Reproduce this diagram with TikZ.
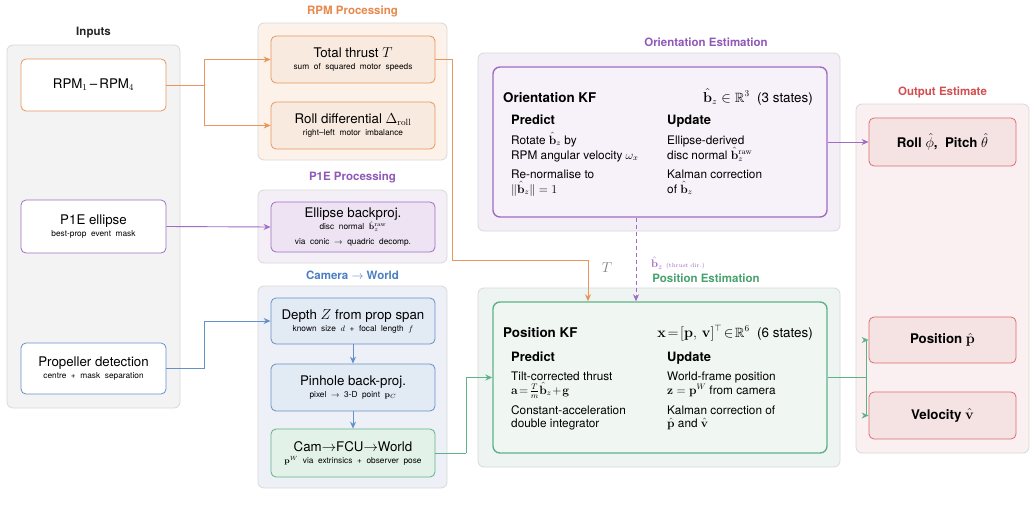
\documentclass[tikz,border=0pt]{standalone}
\usepackage{amsmath,amssymb}
\usepackage[no-math]{fontspec}
\setmainfont{TeX Gyre Heros}
\usetikzlibrary{arrows.meta}
\definecolor{orn}{HTML}{E8965E}
\definecolor{ornT}{HTML}{E8884C}
\definecolor{ornF}{HTML}{F8EADF}
\definecolor{ornP}{HTML}{FCF2EA}
\definecolor{pur}{HTML}{A06CC4}
\definecolor{purT}{HTML}{9058B8}
\definecolor{purF}{HTML}{EDE3F2}
\definecolor{purP}{HTML}{F4EFF6}
\definecolor{purK}{HTML}{F7F1F9}
\definecolor{blu}{HTML}{6690C8}
\definecolor{bluT}{HTML}{4C7EC0}
\definecolor{bluF}{HTML}{E2EAF4}
\definecolor{bluP}{HTML}{EDF0F6}
\definecolor{grn}{HTML}{5FB286}
\definecolor{grnT}{HTML}{48A26E}
\definecolor{grnF}{HTML}{E3F2E8}
\definecolor{grnP}{HTML}{EEF4F1}
\definecolor{grnK}{HTML}{F0F7F3}
\definecolor{rdd}{HTML}{DC6D70}
\definecolor{rddT}{HTML}{D24E50}
\definecolor{rddF}{HTML}{F5E3E4}
\definecolor{rddP}{HTML}{FAF0F1}
\definecolor{pgray}{HTML}{D8D8D8}
\definecolor{pfill}{HTML}{F3F3F3}
\definecolor{tgray}{HTML}{808080}
\newcommand{\fmain}{\fontsize{13.3}{11.4}\selectfont}
\newcommand{\fsmall}{\fontsize{8.3}{9}\selectfont}
\newcommand{\ftitle}{\fontsize{11.5}{13}\selectfont\bfseries}
\newcommand{\fkf}{\fontsize{13.4}{15}\selectfont}
\newcommand{\fpu}{\fontsize{12.9}{15}\selectfont\bfseries}
\newcommand{\fbody}{\fontsize{11.8}{13}\selectfont}
\newcommand{\bz}{\hat{\mathbf{b}}_z}
\tikzset{
  panel/.style={draw=pgray, line width=0.8pt, rounded corners=6pt, inner sep=0pt},
  box/.style={rounded corners=5pt, line width=0.8pt, align=center, inner sep=0pt},
  kfbox/.style={rounded corners=7pt, line width=1.4pt, inner sep=0pt},
  ttl/.style={font=\ftitle, inner sep=0pt},
  body/.style={font=\fbody, anchor=base west, inner sep=0pt},
  pu/.style={font=\fpu, anchor=base west, inner sep=0pt},
  arr/.style={line width=0.9pt, -{Stealth[length=7pt,width=6pt]}},
  ln/.style={line width=0.9pt}
}
\begin{document}
\begin{tikzpicture}[x=1pt,y=-1pt]
\path[use as bounding box] (0,0) rectangle (1036,514);

% ---------- Inputs ----------
\node[ttl, text=black!85] (tin) at (93.5,33) {Inputs};
\node[panel, fill=pfill, minimum width=173, minimum height=363] (pin) at (93.5,226.5) {};
\node[box, draw=orn, fill=white, minimum width=145, minimum height=52] (rpm) at (93.5,85)
  {\fmain RPM$_1$\,--\,RPM$_4$};
\node[box, draw=pur, fill=white, minimum width=145, minimum height=53] (p1e) at (93.5,226.5)
  {\fmain P1E ellipse\\{\fsmall best-prop~ event~ mask}};
\node[box, draw=blu, fill=white, minimum width=145, minimum height=51] (prop) at (93.5,368.5)
  {\fmain Propeller detection\\{\fsmall centre~ +~ mask~ separation}};

% ---------- RPM Processing ----------
\node[ttl, text=ornT] (trpm) at (352.5,11) {RPM Processing};
\node[panel, fill=ornP, minimum width=189, minimum height=137] (prpm) at (352.5,91.5) {};
\node[box, draw=orn, fill=ornF, minimum width=164, minimum height=47] (thrust) at (353,59.5)
  {\fmain Total thrust $T$\\{\fsmall sum~ of~ squared~ motor~ speeds}};
\node[box, draw=orn, fill=ornF, minimum width=164, minimum height=47] (roll) at (353,125.5)
  {\fmain Roll differential $\Delta_{\mathrm{roll}}$\\{\fsmall right--left~ motor~ imbalance}};

% ---------- P1E Processing ----------
\node[ttl, text=purT] (tp1e) at (352.5,177) {P1E Processing};
\node[panel, fill=purP, minimum width=189, minimum height=73] (pp1e) at (352.5,226.5) {};
\node[box, draw=pur, fill=purF, minimum width=164, minimum height=50] (ell) at (353,227)
  {\fmain Ellipse backproj.\\{\fsmall disc~ normal~ $\hat{\mathbf{b}}_z^{\mathrm{raw}}$}\\[2.5pt]{\fsmall via~ conic~ $\rightarrow$~ quadric~ decomp.}};

% ---------- Camera -> World ----------
\node[ttl, text=bluT] (tcam) at (352.5,275) {Camera $\rightarrow$ World};
\node[panel, fill=bluP, minimum width=189, minimum height=202] (pcam) at (352.5,387) {};
\node[box, draw=blu, fill=bluF, minimum width=164, minimum height=46] (depth) at (353,321)
  {\fmain Depth $Z$ from prop span\\{\fsmall known~ size~ $d$~ +~ focal~ length~ $f$}};
\node[box, draw=blu, fill=bluF, minimum width=164, minimum height=47] (pinh) at (353,387.5)
  {\fmain Pinhole back-proj.\\{\fsmall pixel~ $\rightarrow$~ 3-D~ point~ $\mathbf{p}_C$}};
\node[box, draw=grn, fill=grnF, minimum width=164, minimum height=48] (c2w) at (353,453)
  {\fmain Cam$\rightarrow$FCU$\rightarrow$World\\{\fsmall $\mathbf{p}^W$~ via~ extrinsics~ +~ observer~ pose}};

% ---------- Orientation Estimation ----------
\node[ttl, text=purT] (tori) at (706,42) {Orientation Estimation};
\node[panel, fill=purP, minimum width=362, minimum height=178] (pori) at (659,142) {};
\node[kfbox, draw=pur, fill=purK, minimum width=334, minimum height=150] (okf) at (660,142) {};
\node[font=\fkf\bfseries, anchor=base west, inner sep=0pt] (okh) at (503,102) {Orientation KF};
\node[font=\fkf, anchor=base east, inner sep=0pt] (oks) at (813,102) {$\bz\in\mathbb{R}^3$~~(3 states)};
\node[pu] (opr) at (511,124.5) {Predict};
\node[pu] (oup) at (667,124.5) {Update};
\node[body] (o1) at (511,144) {Rotate $\bz$ by};
\node[body] (o2) at (511,159) {RPM angular velocity $\omega_x$};
\node[body] (o3) at (511,178) {Re-normalise to};
\node[body] (o4) at (511,193) {$\|\bz\|=1$};
\node[body] (o5) at (667,144) {Ellipse-derived};
\node[body] (o6) at (667,159) {disc normal $\hat{\mathbf{b}}_z^{\mathrm{raw}}$};
\node[body] (o7) at (667,178) {Kalman correction};
\node[body] (o8) at (667,193) {of $\bz$};

% ---------- Position Estimation ----------
\node[ttl, text=grnT] (tpos) at (706,278) {Position Estimation};
\node[panel, fill=grnP, minimum width=362, minimum height=179] (ppos) at (659,377.5) {};
\node[kfbox, draw=grn, fill=grnK, minimum width=334, minimum height=151] (pkf) at (660,377.5) {};
\node[font=\fkf\bfseries, anchor=base west, inner sep=0pt] (pkh) at (503,337) {Position KF};
\node[font=\fkf, anchor=base east, inner sep=0pt] (pks) at (813,337) {$\mathbf{x}\!=\![\mathbf{p},\,\mathbf{v}]^\top\!\in\!\mathbb{R}^6$~~(6 states)};
\node[pu] (ppr) at (511,361.5) {Predict};
\node[pu] (pup) at (667,361.5) {Update};
\node[body] (q1) at (511,380) {Tilt-corrected thrust};
\node[body] (q2) at (511,394) {$\mathbf{a}\!=\!\frac{T}{m}\bz\!+\!\mathbf{g}$};
\node[body] (q3) at (511,414) {Constant-acceleration};
\node[body] (q4) at (511,427) {double integrator};
\node[body] (q5) at (667,380) {World-frame position};
\node[body] (q6) at (667,394) {$\mathbf{z}=\mathbf{p}^W$ from camera};
\node[body] (q7) at (667,414) {Kalman correction of};
\node[body] (q8) at (667,427) {$\hat{\mathbf{p}}$ and $\hat{\mathbf{v}}$};

% ---------- Output Estimate ----------
\node[ttl, text=rddT] (tout) at (942.5,92) {Output Estimate};
\node[panel, fill=rddP, minimum width=173, minimum height=349] (pout) at (942.5,278.5) {};
\node[box, draw=rdd, fill=rddF, minimum width=147, minimum height=48, font=\fmain\bfseries] (rp) at (942.5,142)
  {Roll $\hat{\phi}$,~ Pitch $\hat{\theta}$};
\node[box, draw=rdd, fill=rddF, minimum width=147, minimum height=46, font=\fmain\bfseries] (pos) at (942.5,340)
  {Position $\hat{\mathbf{p}}$};
\node[box, draw=rdd, fill=rddF, minimum width=147, minimum height=47, font=\fmain\bfseries] (vel) at (942.5,415.5)
  {Velocity $\hat{\mathbf{v}}$};

% ---------- Connectors ----------
\coordinate (jr) at (204,85);
\draw[ln, orn] (rpm.east) -- (jr);
\draw[arr, orn] (jr) |- (thrust.west);
\draw[arr, orn] (jr) |- (roll.west);

\draw[arr, pur] (p1e.east) -- (ell.west);

\coordinate (jb) at (204,368.5);
\draw[ln, blu] (prop.east) -- (jb);
\draw[arr, blu] (jb) |- (depth.west);
\draw[arr, blu] (depth.south) -- (pinh.north);
\draw[arr, blu] (pinh.south) -- (c2w.north);

\coordinate (jg) at (466,453);
\draw[ln, grn] (c2w.east) -- (jg);
\draw[arr, grn] (jg) |- (pkf.west);

\coordinate (tb1) at (452,260);
\coordinate (tb2) at (588,260);
\draw[arr, orn] (thrust.east) -| (tb1) -- (tb2) -- (tb2 |- pkf.north);
\node[text=tgray, font=\fmain, inner sep=0pt] (tlab) at (607,268) {$T$};

\coordinate (dz) at (636,0);
\draw[arr, pur, dashed, dash pattern=on 4pt off 3pt] (okf.south -| dz) -- (pkf.north -| dz);
\node[text=pur, anchor=west, inner sep=0pt] (blab) at (651,263)
  {\fontsize{11}{13}\selectfont$\bz$~{\fontsize{6.5}{8}\selectfont$\mathrm{(thrust\ dir.)}$}};

\draw[arr, pur] (okf.east) -- (rp.west);

\coordinate (jo) at (866,377.5);
\draw[ln, grn] (pkf.east) -- (jo);
\draw[arr, grn] (jo) |- (pos.west);
\draw[arr, grn] (jo) |- (vel.west);
\end{tikzpicture}
\end{document}
